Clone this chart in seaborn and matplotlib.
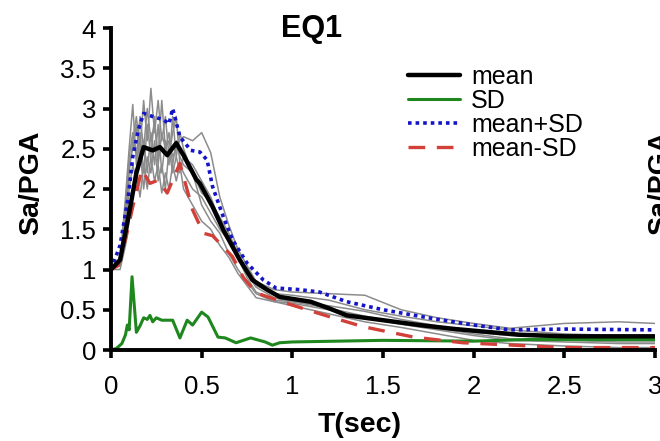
#%% Normalised response spectra (Sa/PGA) for EQ1: individual records, mean and SD
import numpy as np
import pandas as pd
import matplotlib
matplotlib.use('Agg')
import matplotlib.pyplot as plt
import seaborn as sns

#%% values
# individual records (grey)
rec_T = [0, 0.05, 0.08, 0.1, 0.12, 0.14, 0.16, 0.18, 0.2, 0.22, 0.24, 0.26, 0.28, 0.3, 0.32,
         0.34, 0.36, 0.38, 0.4, 0.45, 0.5, 0.55, 0.6, 0.65, 0.7, 0.75, 0.8, 0.9, 1.0, 1.2,
         1.4, 1.6, 1.8, 2.0, 2.2, 2.5, 2.8, 3.0]
rec_1 = [1.0, 1.1, 1.9, 2.5, 3.05, 2.3, 2.7, 2.2, 2.8, 2.4, 2.9, 2.3, 2.7, 2.5, 2.6,
         2.4, 2.5, 2.6, 2.65, 2.6, 2.7, 2.45, 1.9, 1.55, 1.25, 1.05, 0.85, 0.75, 0.72, 0.7,
         0.68, 0.5, 0.4, 0.33, 0.27, 0.33, 0.35, 0.33]
rec_2 = [1.0, 1.05, 1.6, 2.2, 2.6, 2.9, 2.5, 3.1, 2.6, 3.25, 2.7, 3.1, 2.6, 2.9, 2.4,
         2.7, 2.9, 2.3, 2.2, 2.0, 1.9, 1.7, 1.5, 1.35, 1.15, 0.95, 0.8, 0.7, 0.68, 0.62,
         0.5, 0.42, 0.35, 0.3, 0.25, 0.2, 0.18, 0.18]
rec_3 = [1.0, 1.0, 1.3, 1.6, 2.0, 2.2, 1.9, 2.3, 2.0, 2.4, 2.1, 2.3, 1.95, 2.2, 2.0,
         2.3, 2.1, 2.3, 2.0, 1.8, 1.6, 1.5, 1.3, 1.15, 0.95, 0.8, 0.65, 0.6, 0.55, 0.45,
         0.35, 0.28, 0.2, 0.12, 0.08, 0.05, 0.03, 0.03]
rec_4 = [1.0, 1.1, 1.8, 2.4, 2.7, 2.4, 2.9, 2.5, 3.0, 2.6, 2.8, 2.4, 3.1, 2.5, 2.7,
         2.3, 2.6, 2.4, 2.3, 2.2, 1.95, 1.85, 1.65, 1.45, 1.2, 0.95, 0.78, 0.65, 0.6, 0.55,
         0.48, 0.38, 0.3, 0.22, 0.18, 0.15, 0.14, 0.14]
rec_5 = [1.0, 1.05, 1.5, 2.0, 2.3, 2.1, 2.5, 2.0, 2.4, 2.2, 2.6, 2.1, 2.3, 2.0, 2.5,
         2.2, 2.4, 2.7, 2.5, 2.2, 1.8, 1.6, 1.45, 1.2, 1.0, 0.85, 0.7, 0.6, 0.58, 0.5,
         0.4, 0.32, 0.25, 0.18, 0.12, 0.1, 0.08, 0.08]
rec_6 = [1.0, 1.1, 1.7, 2.3, 2.5, 2.8, 2.3, 2.6, 2.2, 2.7, 2.3, 2.8, 2.2, 2.6, 2.3,
         2.9, 2.4, 2.2, 2.4, 2.3, 2.1, 1.9, 1.6, 1.4, 1.15, 0.9, 0.72, 0.62, 0.6, 0.52,
         0.42, 0.33, 0.27, 0.2, 0.14, 0.12, 0.1, 0.1]

mean_T  = [0, 0.05, 0.1, 0.14, 0.18, 0.23, 0.27, 0.31, 0.36, 0.4, 0.47, 0.49, 0.56, 0.62, 0.71,
           0.78, 0.86, 0.93, 1.1, 1.2, 1.3, 1.5, 1.7, 1.9, 2.1, 2.25, 2.5, 2.8, 3.0]
mean_Sa = [1.0, 1.12, 1.7, 2.2, 2.52, 2.48, 2.52, 2.42, 2.57, 2.42, 2.12, 2.07, 1.78, 1.49, 1.12,
           0.87, 0.75, 0.66, 0.6, 0.52, 0.43, 0.37, 0.31, 0.26, 0.22, 0.19, 0.17, 0.17, 0.17]

sd_T  = [0, 0.03, 0.06, 0.08, 0.09, 0.1, 0.116, 0.14, 0.16, 0.18, 0.2, 0.215, 0.23, 0.25, 0.28,
         0.34, 0.38, 0.42, 0.45, 0.5, 0.535, 0.59, 0.63, 0.66, 0.69, 0.77, 0.85, 0.89, 0.93, 1.0,
         1.25, 1.5, 2.0, 2.3, 2.5, 3.0]
sd_Sa = [0.0, 0.02, 0.08, 0.19, 0.31, 0.25, 0.91, 0.22, 0.3, 0.4, 0.38, 0.43, 0.35, 0.4, 0.37,
         0.37, 0.15, 0.37, 0.31, 0.47, 0.41, 0.16, 0.15, 0.12, 0.09, 0.15, 0.1, 0.06, 0.09, 0.1,
         0.11, 0.12, 0.11, 0.13, 0.13, 0.13]

plus_T  = [0, 0.05, 0.095, 0.12, 0.15, 0.18, 0.23, 0.29, 0.32, 0.34, 0.38, 0.44, 0.49, 0.53, 0.56,
           0.62, 0.67, 0.75, 0.84, 0.91, 1.04, 1.15, 1.3, 1.5, 1.75, 2.0, 2.2, 2.5, 3.0]
plus_Sa = [1.0, 1.3, 1.9, 2.4, 2.73, 2.94, 2.9, 2.86, 2.81, 3.0, 2.65, 2.48, 2.46, 2.36, 2.03,
           1.65, 1.37, 1.08, 0.87, 0.77, 0.75, 0.72, 0.6, 0.5, 0.4, 0.31, 0.25, 0.26, 0.25]

minus_T  = [0, 0.04, 0.08, 0.12, 0.17, 0.215, 0.26, 0.31, 0.38, 0.45, 0.51, 0.56, 0.67, 0.73, 0.8,
            0.97, 1.08, 1.21, 1.39, 1.67, 1.94, 2.22, 2.5, 3.0]
minus_Sa = [1.0, 1.05, 1.37, 1.78, 2.24, 2.07, 2.11, 1.95, 2.32, 1.74, 1.45, 1.42, 1.16, 0.9, 0.71,
            0.58, 0.5, 0.41, 0.29, 0.16, 0.09, 0.06, 0.03, 0.03]

xticks      = [0, 0.5, 1, 1.5, 2, 2.5, 3]
xticklabels = ['0', '0.5', '1', '1.5', '2', '2.5', '3']
yticks      = [0, 0.5, 1, 1.5, 2, 2.5, 3, 3.5, 4]
yticklabels = ['0', '0.5', '1', '1.5', '2', '2.5', '3', '3.5', '4']

#%% style
sns.set_theme(style='ticks')
plt.rcParams['font.family'] = ['Liberation Sans', 'DejaVu Sans']
plt.rcParams.update({'text.color': 'black', 'axes.labelcolor': 'black',
                     'xtick.color': 'black', 'ytick.color': 'black'})

recdata = pd.concat([pd.DataFrame({'T': rec_T, 'Sa': r, 'record': i})
                     for i, r in enumerate([rec_1, rec_2, rec_3, rec_4, rec_5, rec_6])])

W, H = 660, 441
fig = plt.figure(figsize=(W/100, H/100), dpi=100)
ax = fig.add_axes([111/W, 91/H, 544/W, 322/H])

sns.lineplot(data=recdata, x='T', y='Sa', units='record', estimator=None,
             color='#8c8c8c', lw=1.1, ax=ax)
sns.lineplot(x=sd_T, y=sd_Sa, color='#1e871e', lw=2.2, label='SD', ax=ax)
sns.lineplot(x=minus_T, y=minus_Sa, color='#d2403a', lw=2.4, linestyle=(0, (5, 3.5)),
             label='mean-SD', ax=ax)
sns.lineplot(x=plus_T, y=plus_Sa, color='#1414c8', lw=2.6, linestyle=(0, (1, 1.1)),
             label='mean+SD', ax=ax)
sns.lineplot(x=mean_T, y=mean_Sa, color='black', lw=3.2, label='mean', ax=ax)

ax.set_xlim(0, 3)
ax.set_ylim(0, 4)
ax.set_xticks(xticks)
ax.set_xticklabels(xticklabels)
ax.set_yticks(yticks)
ax.set_yticklabels(yticklabels)
ax.tick_params(axis='both', labelsize=18.5, width=2.6, length=5.8, color='black',
               labelcolor='black')
ax.tick_params(axis='x', pad=12.5)
ax.tick_params(axis='y', pad=5)
for side in ['top', 'right']:
    ax.spines[side].set_visible(False)
for side in ['left', 'bottom']:
    ax.spines[side].set_linewidth(2.8)
    ax.spines[side].set_color('black')
    ax.spines[side].set_zorder(5)

ax.set_xlabel('T(sec)', fontsize=20.5, fontweight='bold', va='center')
ax.xaxis.set_label_coords((360-111)/544, (350-425)/322)
ax.set_ylabel('Sa/PGA', fontsize=20.5, fontweight='bold', va='center')
ax.yaxis.set_label_coords((31-111)/544, (350-183)/322)
fig.text(312/W, 1-29/H, 'EQ1', fontsize=22, fontweight='bold', ha='center', va='center')
# y label of the neighbouring panel, cut by the right edge
fig.text(660/W, 1-183/H, 'Sa/PGA', fontsize=20.5, fontweight='bold', rotation=90,
         ha='center', va='center')

handles, labels = ax.get_legend_handles_labels()
order = ['mean', 'SD', 'mean+SD', 'mean-SD']
hd = dict(zip(labels, handles))
leg = ax.legend([hd[k] for k in order], order, loc='upper left', bbox_to_anchor=(408/W, 1-65/H),
                bbox_transform=fig.transFigure, frameon=False, fontsize=18, borderpad=0,
                borderaxespad=0, handlelength=2.08, handletextpad=0.45, labelspacing=0.0)
for t in leg.get_texts():
    t.set_color('black')

fig.savefig('out.png', dpi=100)
